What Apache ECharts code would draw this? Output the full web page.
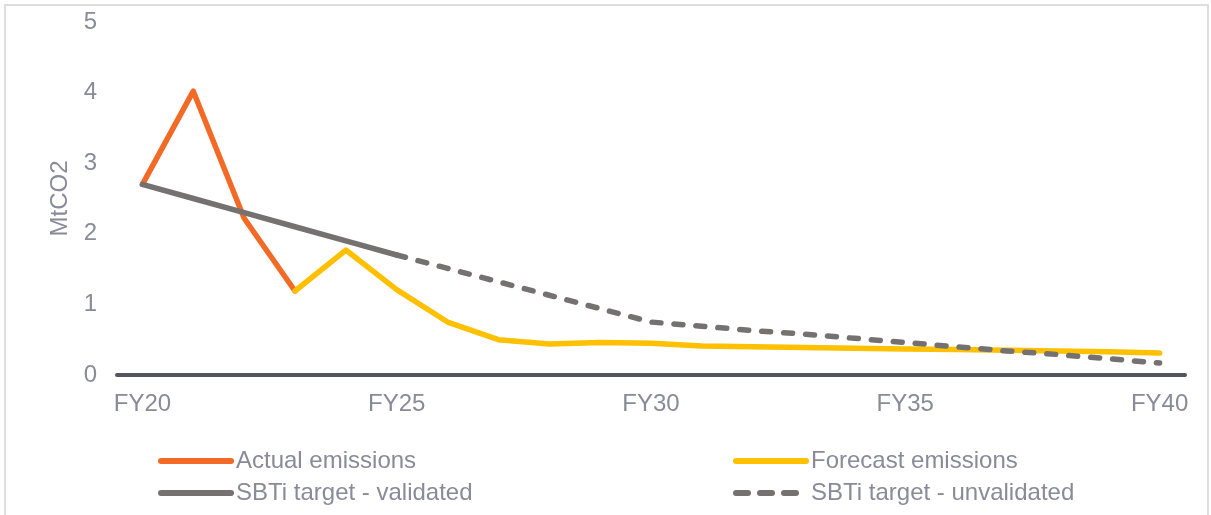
<!DOCTYPE html>
<html>
<head>
<meta charset="utf-8">
<script src="https://cdn.jsdelivr.net/npm/echarts@6/dist/echarts.min.js"></script>
<style>
  html, body { margin: 0; padding: 0; background: #fff; }
  #chart { width: 1211px; height: 515px; }
</style>
</head>
<body>
<div id="chart"></div>
<script>
// Fiscal years on the category axis
const years = ['FY20','FY21','FY22','FY23','FY24','FY25','FY26','FY27','FY28','FY29','FY30',
               'FY31','FY32','FY33','FY34','FY35','FY36','FY37','FY38','FY39','FY40'];

// Emissions in MtCO2 (null where a series has no value)
const actualEmissions = [2.70, 4.02, 2.22, 1.19, null, null, null, null, null, null, null,
                         null, null, null, null, null, null, null, null, null, null];
const forecastEmissions = [null, null, null, 1.19, 1.77, 1.21, 0.75, 0.50, 0.44, 0.46, 0.45,
                           0.41, 0.40, 0.39, 0.38, 0.37, 0.36, 0.35, 0.34, 0.33, 0.31];
const sbtiValidated = [2.70, 2.50, 2.30, 2.10, 1.90, 1.70, null, null, null, null, null,
                       null, null, null, null, null, null, null, null, null, null];
const sbtiUnvalidated = [null, null, null, null, null, 1.70, 1.51, 1.32, 1.13, 0.94, 0.75,
                         0.69, 0.63, 0.58, 0.52, 0.46, 0.40, 0.34, 0.29, 0.23, 0.17];

const yTicks = [0, 1, 2, 3, 4, 5];

const TEXT = '#8a8a99';
const FONT = '"Liberation Sans", Arial, sans-serif';

const chart = echarts.init(document.getElementById('chart'), null, { renderer: 'canvas' });

function lineSeries(name, data, color, dashed) {
  return {
    name: name,
    type: 'line',
    data: data,
    symbol: 'none',
    connectNulls: false,
    lineStyle: {
      color: color,
      width: 5.5,
      type: dashed ? [9, 13] : 'solid',
      cap: 'round',
      join: 'round'
    },
    itemStyle: { color: color },
    emphasis: { disabled: true },
    animation: false
  };
}

const legendCommon = {
  orient: 'vertical',
  top: 449,
  padding: 0,
  itemWidth: 70,
  itemHeight: 14,
  itemGap: 8,
  selectedMode: false,
  itemStyle: { opacity: 0 },
  lineStyle: { width: 6, cap: 'round' },
  textStyle: { color: TEXT, fontSize: 24, fontFamily: FONT, lineHeight: 24 }
};

chart.setOption({
  animation: false,
  backgroundColor: '#ffffff',
  textStyle: { fontFamily: FONT },
  graphic: [{
    type: 'rect',
    shape: { x: 5, y: 5, width: 1203, height: 530 },
    style: { fill: 'none', stroke: '#dedede', lineWidth: 2 },
    silent: true
  }],
  grid: { left: 117, right: 26, top: 22, bottom: 140 },
  legend: [
    Object.assign({ left: 158, data: ['Actual emissions', 'SBTi target - validated'] }, legendCommon),
    Object.assign({
      left: 733,
      data: [
        'Forecast emissions',
        { name: 'SBTi target - unvalidated', lineStyle: { type: [12, 12], width: 6, cap: 'round' } }
      ]
    }, legendCommon)
  ],
  xAxis: {
    type: 'category',
    data: years,
    boundaryGap: true,
    axisLine: { show: true, lineStyle: { color: '#55555f', width: 4 } },
    axisTick: { show: false },
    axisLabel: {
      interval: 4,
      color: TEXT,
      fontSize: 24,
      fontFamily: FONT,
      margin: 17
    },
    splitLine: { show: false }
  },
  yAxis: {
    type: 'value',
    min: yTicks[0],
    max: yTicks[yTicks.length - 1],
    interval: 1,
    name: 'MtCO2',
    nameLocation: 'middle',
    nameGap: 42,
    nameRotate: 90,
    nameTextStyle: { color: TEXT, fontSize: 24, fontFamily: FONT },
    axisLine: { show: false },
    axisTick: { show: false },
    splitLine: { show: false },
    axisLabel: { color: TEXT, fontSize: 24, fontFamily: FONT, margin: 20 }
  },
  series: [
    lineSeries('Actual emissions', actualEmissions, '#f26a26', false),
    lineSeries('Forecast emissions', forecastEmissions, '#ffc000', false),
    lineSeries('SBTi target - validated', sbtiValidated, '#767171', false),
    lineSeries('SBTi target - unvalidated', sbtiUnvalidated, '#767171', true)
  ]
});
</script>
</body>
</html>
